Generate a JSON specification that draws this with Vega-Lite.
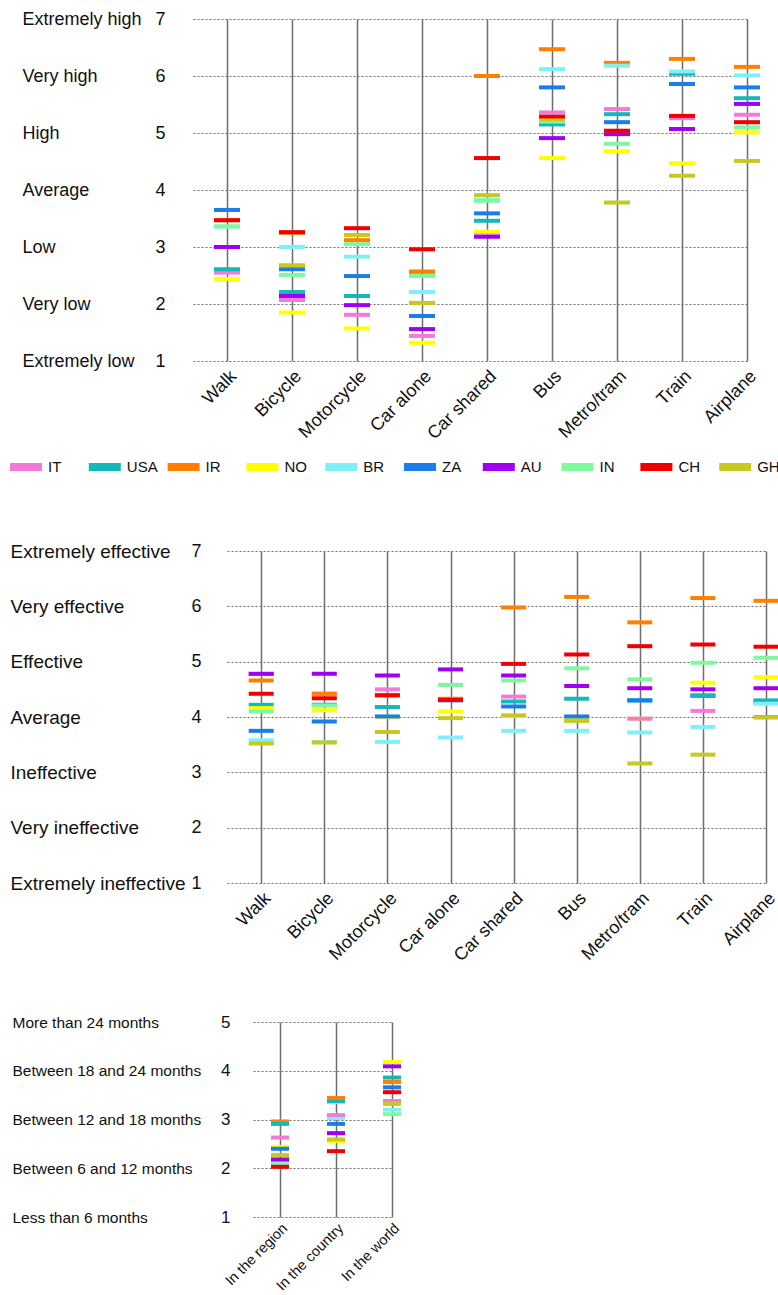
{
  "$schema": "https://vega.github.io/schema/vega-lite/v6.json",
  "background": "white",
  "padding": {"left": 10, "top": 10, "right": 0, "bottom": 0},
  "config": {
    "view": {"stroke": null},
    "font": "Liberation Sans",
    "axis": {"labelFlush": false, "labelOverlap": false, "tickSize": 0, "ticks": false, "domain": false, "labelColor": "#111111", "title": null}
  },
  "datasets": {
    "risk": [
      {"mode": "Walk", "country": "IR", "value": 3.47},
      {"mode": "Walk", "country": "BR", "value": 3.36},
      {"mode": "Walk", "country": "GH", "value": 2.58},
      {"mode": "Bicycle", "country": "IR", "value": 3.25},
      {"mode": "Car alone", "country": "USA", "value": 2.5},
      {"mode": "Car shared", "country": "IT", "value": 3.25},
      {"mode": "Car shared", "country": "BR", "value": 3.83},
      {"mode": "Train", "country": "IN", "value": 6.05},
      {"mode": "Walk", "country": "IT", "value": 2.55},
      {"mode": "Walk", "country": "USA", "value": 2.61},
      {"mode": "Walk", "country": "NO", "value": 2.44},
      {"mode": "Walk", "country": "ZA", "value": 3.65},
      {"mode": "Walk", "country": "AU", "value": 3.0},
      {"mode": "Walk", "country": "IN", "value": 3.36},
      {"mode": "Walk", "country": "CH", "value": 3.47},
      {"mode": "Bicycle", "country": "IT", "value": 2.07},
      {"mode": "Bicycle", "country": "USA", "value": 2.21},
      {"mode": "Bicycle", "country": "NO", "value": 1.85},
      {"mode": "Bicycle", "country": "BR", "value": 3.0},
      {"mode": "Bicycle", "country": "ZA", "value": 2.61},
      {"mode": "Bicycle", "country": "AU", "value": 2.14},
      {"mode": "Bicycle", "country": "IN", "value": 2.51},
      {"mode": "Bicycle", "country": "CH", "value": 3.26},
      {"mode": "Bicycle", "country": "GH", "value": 2.68},
      {"mode": "Motorcycle", "country": "IT", "value": 1.81},
      {"mode": "Motorcycle", "country": "USA", "value": 2.14},
      {"mode": "Motorcycle", "country": "IR", "value": 3.12},
      {"mode": "Motorcycle", "country": "NO", "value": 1.57},
      {"mode": "Motorcycle", "country": "BR", "value": 2.83},
      {"mode": "Motorcycle", "country": "ZA", "value": 2.49},
      {"mode": "Motorcycle", "country": "AU", "value": 1.98},
      {"mode": "Motorcycle", "country": "IN", "value": 3.05},
      {"mode": "Motorcycle", "country": "CH", "value": 3.33},
      {"mode": "Motorcycle", "country": "GH", "value": 3.21},
      {"mode": "Car alone", "country": "IT", "value": 1.44},
      {"mode": "Car alone", "country": "IR", "value": 2.57},
      {"mode": "Car alone", "country": "NO", "value": 1.32},
      {"mode": "Car alone", "country": "BR", "value": 2.21},
      {"mode": "Car alone", "country": "ZA", "value": 1.79},
      {"mode": "Car alone", "country": "AU", "value": 1.56},
      {"mode": "Car alone", "country": "IN", "value": 2.49},
      {"mode": "Car alone", "country": "CH", "value": 2.96},
      {"mode": "Car alone", "country": "GH", "value": 2.02},
      {"mode": "Car shared", "country": "USA", "value": 3.46},
      {"mode": "Car shared", "country": "IR", "value": 6.0},
      {"mode": "Car shared", "country": "NO", "value": 3.27},
      {"mode": "Car shared", "country": "ZA", "value": 3.59},
      {"mode": "Car shared", "country": "AU", "value": 3.18},
      {"mode": "Car shared", "country": "IN", "value": 3.81},
      {"mode": "Car shared", "country": "CH", "value": 4.56},
      {"mode": "Car shared", "country": "GH", "value": 3.91},
      {"mode": "Bus", "country": "USA", "value": 5.15},
      {"mode": "Bus", "country": "IR", "value": 6.47},
      {"mode": "Bus", "country": "NO", "value": 4.56},
      {"mode": "Bus", "country": "BR", "value": 6.12},
      {"mode": "Bus", "country": "ZA", "value": 5.8},
      {"mode": "Bus", "country": "AU", "value": 4.91},
      {"mode": "Bus", "country": "IN", "value": 5.2},
      {"mode": "Bus", "country": "GH", "value": 5.24},
      {"mode": "Bus", "country": "CH", "value": 5.29},
      {"mode": "Bus", "country": "IT", "value": 5.36},
      {"mode": "Metro/tram", "country": "IR", "value": 6.23},
      {"mode": "Metro/tram", "country": "BR", "value": 6.18},
      {"mode": "Metro/tram", "country": "USA", "value": 5.33},
      {"mode": "Metro/tram", "country": "IT", "value": 5.42},
      {"mode": "Metro/tram", "country": "ZA", "value": 5.19},
      {"mode": "Metro/tram", "country": "AU", "value": 4.98},
      {"mode": "Metro/tram", "country": "CH", "value": 5.04},
      {"mode": "Metro/tram", "country": "IN", "value": 4.81},
      {"mode": "Metro/tram", "country": "NO", "value": 4.68},
      {"mode": "Metro/tram", "country": "GH", "value": 3.78},
      {"mode": "Train", "country": "USA", "value": 6.04},
      {"mode": "Train", "country": "BR", "value": 6.08},
      {"mode": "Train", "country": "IR", "value": 6.3},
      {"mode": "Train", "country": "ZA", "value": 5.86},
      {"mode": "Train", "country": "IT", "value": 5.26},
      {"mode": "Train", "country": "CH", "value": 5.3},
      {"mode": "Train", "country": "AU", "value": 5.07},
      {"mode": "Train", "country": "NO", "value": 4.47},
      {"mode": "Train", "country": "GH", "value": 4.25},
      {"mode": "Airplane", "country": "IT", "value": 5.32},
      {"mode": "Airplane", "country": "USA", "value": 5.61},
      {"mode": "Airplane", "country": "IR", "value": 6.16},
      {"mode": "Airplane", "country": "NO", "value": 5.01},
      {"mode": "Airplane", "country": "BR", "value": 6.01},
      {"mode": "Airplane", "country": "ZA", "value": 5.8},
      {"mode": "Airplane", "country": "AU", "value": 5.51},
      {"mode": "Airplane", "country": "IN", "value": 5.1},
      {"mode": "Airplane", "country": "CH", "value": 5.19},
      {"mode": "Airplane", "country": "GH", "value": 4.51}
    ],
    "effect": [
      {"mode": "Walk", "country": "IT", "value": 4.78},
      {"mode": "Bicycle", "country": "IT", "value": 4.42},
      {"mode": "Bicycle", "country": "BR", "value": 3.55},
      {"mode": "Bicycle", "country": "USA", "value": 4.22},
      {"mode": "Motorcycle", "country": "IR", "value": 4.4},
      {"mode": "Motorcycle", "country": "NO", "value": 4.0},
      {"mode": "Motorcycle", "country": "IN", "value": 4.18},
      {"mode": "Car alone", "country": "IT", "value": 4.58},
      {"mode": "Car alone", "country": "USA", "value": 4.32},
      {"mode": "Car alone", "country": "IR", "value": 4.33},
      {"mode": "Car alone", "country": "ZA", "value": 4.3},
      {"mode": "Car shared", "country": "NO", "value": 4.02},
      {"mode": "Bus", "country": "IT", "value": 4.0},
      {"mode": "Bus", "country": "NO", "value": 3.95},
      {"mode": "Metro/tram", "country": "USA", "value": 4.3},
      {"mode": "Metro/tram", "country": "NO", "value": 3.97},
      {"mode": "Train", "country": "ZA", "value": 4.39},
      {"mode": "Airplane", "country": "IT", "value": 4.0},
      {"mode": "Airplane", "country": "ZA", "value": 4.28},
      {"mode": "Walk", "country": "USA", "value": 4.22},
      {"mode": "Walk", "country": "IR", "value": 4.66},
      {"mode": "Walk", "country": "NO", "value": 4.16},
      {"mode": "Walk", "country": "BR", "value": 3.58},
      {"mode": "Walk", "country": "ZA", "value": 3.75},
      {"mode": "Walk", "country": "AU", "value": 4.78},
      {"mode": "Walk", "country": "IN", "value": 4.1},
      {"mode": "Walk", "country": "CH", "value": 4.42},
      {"mode": "Walk", "country": "GH", "value": 3.52},
      {"mode": "Bicycle", "country": "IR", "value": 4.42},
      {"mode": "Bicycle", "country": "NO", "value": 4.12},
      {"mode": "Bicycle", "country": "ZA", "value": 3.92},
      {"mode": "Bicycle", "country": "AU", "value": 4.78},
      {"mode": "Bicycle", "country": "IN", "value": 4.21},
      {"mode": "Bicycle", "country": "CH", "value": 4.34},
      {"mode": "Bicycle", "country": "GH", "value": 3.54},
      {"mode": "Motorcycle", "country": "IT", "value": 4.5},
      {"mode": "Motorcycle", "country": "USA", "value": 4.18},
      {"mode": "Motorcycle", "country": "BR", "value": 3.55},
      {"mode": "Motorcycle", "country": "ZA", "value": 4.01},
      {"mode": "Motorcycle", "country": "AU", "value": 4.75},
      {"mode": "Motorcycle", "country": "CH", "value": 4.39},
      {"mode": "Motorcycle", "country": "GH", "value": 3.73},
      {"mode": "Car alone", "country": "NO", "value": 4.1},
      {"mode": "Car alone", "country": "BR", "value": 3.63},
      {"mode": "Car alone", "country": "AU", "value": 4.86},
      {"mode": "Car alone", "country": "IN", "value": 4.58},
      {"mode": "Car alone", "country": "CH", "value": 4.31},
      {"mode": "Car alone", "country": "GH", "value": 3.98},
      {"mode": "Car shared", "country": "IT", "value": 4.37},
      {"mode": "Car shared", "country": "USA", "value": 4.28},
      {"mode": "Car shared", "country": "IR", "value": 5.98},
      {"mode": "Car shared", "country": "BR", "value": 3.75},
      {"mode": "Car shared", "country": "ZA", "value": 4.19},
      {"mode": "Car shared", "country": "AU", "value": 4.75},
      {"mode": "Car shared", "country": "IN", "value": 4.66},
      {"mode": "Car shared", "country": "CH", "value": 4.96},
      {"mode": "Car shared", "country": "GH", "value": 4.03},
      {"mode": "Bus", "country": "USA", "value": 4.33},
      {"mode": "Bus", "country": "IR", "value": 6.17},
      {"mode": "Bus", "country": "BR", "value": 3.75},
      {"mode": "Bus", "country": "GH", "value": 3.93},
      {"mode": "Bus", "country": "ZA", "value": 4.01},
      {"mode": "Bus", "country": "AU", "value": 4.56},
      {"mode": "Bus", "country": "IN", "value": 4.88},
      {"mode": "Bus", "country": "CH", "value": 5.13},
      {"mode": "Metro/tram", "country": "IT", "value": 3.97},
      {"mode": "Metro/tram", "country": "IR", "value": 5.71},
      {"mode": "Metro/tram", "country": "BR", "value": 3.72},
      {"mode": "Metro/tram", "country": "ZA", "value": 4.3},
      {"mode": "Metro/tram", "country": "AU", "value": 4.52},
      {"mode": "Metro/tram", "country": "IN", "value": 4.68},
      {"mode": "Metro/tram", "country": "CH", "value": 5.28},
      {"mode": "Metro/tram", "country": "GH", "value": 3.16},
      {"mode": "Train", "country": "IT", "value": 4.11},
      {"mode": "Train", "country": "USA", "value": 4.38},
      {"mode": "Train", "country": "IR", "value": 6.15},
      {"mode": "Train", "country": "NO", "value": 4.62},
      {"mode": "Train", "country": "BR", "value": 3.82},
      {"mode": "Train", "country": "AU", "value": 4.5},
      {"mode": "Train", "country": "IN", "value": 4.98},
      {"mode": "Train", "country": "CH", "value": 5.31},
      {"mode": "Train", "country": "GH", "value": 3.32},
      {"mode": "Airplane", "country": "USA", "value": 4.3},
      {"mode": "Airplane", "country": "IR", "value": 6.1},
      {"mode": "Airplane", "country": "NO", "value": 4.72},
      {"mode": "Airplane", "country": "BR", "value": 4.24},
      {"mode": "Airplane", "country": "AU", "value": 4.52},
      {"mode": "Airplane", "country": "IN", "value": 5.07},
      {"mode": "Airplane", "country": "CH", "value": 5.27},
      {"mode": "Airplane", "country": "GH", "value": 3.99}
    ],
    "time": [
      {"mode": "In the region", "country": "IT", "value": 2.63},
      {"mode": "In the region", "country": "BR", "value": 2.1},
      {"mode": "In the region", "country": "IN", "value": 2.12},
      {"mode": "In the region", "country": "IR", "value": 2.96},
      {"mode": "In the region", "country": "USA", "value": 2.91},
      {"mode": "In the region", "country": "NO", "value": 2.44},
      {"mode": "In the region", "country": "ZA", "value": 2.4},
      {"mode": "In the region", "country": "GH", "value": 2.27},
      {"mode": "In the region", "country": "AU", "value": 2.18},
      {"mode": "In the region", "country": "CH", "value": 2.03},
      {"mode": "In the country", "country": "IN", "value": 3.36},
      {"mode": "In the country", "country": "BR", "value": 3.03},
      {"mode": "In the country", "country": "IT", "value": 3.09},
      {"mode": "In the country", "country": "USA", "value": 3.38},
      {"mode": "In the country", "country": "IR", "value": 3.44},
      {"mode": "In the country", "country": "NO", "value": 2.56},
      {"mode": "In the country", "country": "ZA", "value": 2.91},
      {"mode": "In the country", "country": "AU", "value": 2.72},
      {"mode": "In the country", "country": "GH", "value": 2.59},
      {"mode": "In the country", "country": "CH", "value": 2.35},
      {"mode": "In the world", "country": "IT", "value": 3.38},
      {"mode": "In the world", "country": "USA", "value": 3.86},
      {"mode": "In the world", "country": "IR", "value": 3.77},
      {"mode": "In the world", "country": "NO", "value": 4.18},
      {"mode": "In the world", "country": "BR", "value": 3.2},
      {"mode": "In the world", "country": "ZA", "value": 3.66},
      {"mode": "In the world", "country": "AU", "value": 4.09},
      {"mode": "In the world", "country": "IN", "value": 3.11},
      {"mode": "In the world", "country": "CH", "value": 3.56},
      {"mode": "In the world", "country": "GH", "value": 3.32}
    ]
  },
  "spacing": 99,
  "vconcat": [
    {
      "width": 554,
      "height": 342,
      "resolve": {"axis": {"y": "independent"}},
      "layer": [
        {
          "data": {"name": "risk"},
          "mark": {"type": "tick", "thickness": 4, "size": 26, "opacity": 1},
          "encoding": {
            "x": {"field": "mode", "type": "nominal", "sort": ["Walk", "Bicycle", "Motorcycle", "Car alone", "Car shared", "Bus", "Metro/tram", "Train", "Airplane"],
              "scale": {"type": "point", "padding": 0.2615, "align": 1},
              "axis": {"labelAngle": -45, "labelAlign": "right", "labelBaseline": "top", "labelFontSize": 18, "labelPadding": 6, "grid": true, "gridColor": "#6e6e6e", "gridWidth": 1.5}},
            "y": {"field": "value", "type": "quantitative", "scale": {"domain": [1, 7]},
              "axis": {"orient": "left", "values": [1, 2, 3, 4, 5, 6, 7], "format": "d", "labelFontSize": 18, "labelPadding": 28, "grid": true, "gridColor": "#6e6e6e", "gridDash": [2, 2], "gridWidth": 1}},
            "color": {"field": "country", "type": "nominal",
              "scale": {"domain": ["IT", "USA", "IR", "NO", "BR", "ZA", "AU", "IN", "CH", "GH"], "range": ["#f27ad8", "#14b8b8", "#ff8000", "#ffff00", "#80f0f8", "#1a7de8", "#a000f0", "#80f8a0", "#f00000", "#c8c820"]},
              "legend": {"title": null, "orient": "none", "legendX": -183, "legendY": 432, "direction": "horizontal", "columns": 10, "gridAlign": "all", "columnPadding": 9.8, "padding": 0, "symbolType": "M-1,-0.25H1V0.25H-1Z", "symbolSize": 1024, "symbolStrokeWidth": 0, "labelFontSize": 15, "labelOffset": 6, "labelColor": "#111111"}}
          }
        },
        {
          "data": {"values": []},
          "mark": {"type": "tick", "opacity": 0},
          "encoding": {
            "y": {"field": "value", "type": "quantitative",
              "axis": {"orient": "left", "values": [1, 2, 3, 4, 5, 6, 7], "labelExpr": "['', 'Extremely low', 'Very low', 'Low', 'Average', 'High', 'Very high', 'Extremely high'][datum.value]", "labelAlign": "left", "labelPadding": 171, "labelFontSize": 18, "labelLimit": 300, "grid": false}}
          }
        }
      ]
    },
    {
      "spacing": 48,
      "vconcat": [
        {
          "width": 573,
          "height": 332,
          "resolve": {"axis": {"y": "independent"}},
          "layer": [
            {
              "data": {"name": "effect"},
              "mark": {"type": "tick", "thickness": 4, "size": 25, "opacity": 1},
              "encoding": {
                "x": {"field": "mode", "type": "nominal", "sort": ["Walk", "Bicycle", "Motorcycle", "Car alone", "Car shared", "Bus", "Metro/tram", "Train", "Airplane"],
                  "scale": {"type": "point", "range": [34, 573], "padding": 0.271, "align": 1},
                  "axis": {"labelAngle": -45, "labelAlign": "right", "labelBaseline": "top", "labelFontSize": 18, "labelPadding": 6, "grid": true, "gridColor": "#6e6e6e", "gridWidth": 1.5}},
                "y": {"field": "value", "type": "quantitative", "scale": {"domain": [1, 7]},
                  "axis": {"orient": "left", "values": [1, 2, 3, 4, 5, 6, 7], "format": "d", "labelFontSize": 18, "labelPadding": -8, "grid": true, "gridColor": "#6e6e6e", "gridDash": [2, 2], "gridWidth": 1}},
                "color": {"field": "country", "type": "nominal",
                  "scale": {"domain": ["IT", "USA", "IR", "NO", "BR", "ZA", "AU", "IN", "CH", "GH"], "range": ["#f27ad8", "#14b8b8", "#ff8000", "#ffff00", "#80f0f8", "#1a7de8", "#a000f0", "#80f8a0", "#f00000", "#c8c820"]},
                  "legend": {"title": null, "orient": "none", "legendX": -183, "legendY": 432, "direction": "horizontal", "columns": 10, "gridAlign": "all", "columnPadding": 9.8, "padding": 0, "symbolType": "M-1,-0.25H1V0.25H-1Z", "symbolSize": 1024, "symbolStrokeWidth": 0, "labelFontSize": 15, "labelOffset": 6, "labelColor": "#111111"}}
              }
            },
            {
              "data": {"values": []},
              "mark": {"type": "tick", "opacity": 0},
              "encoding": {
                "y": {"field": "value", "type": "quantitative",
                  "axis": {"orient": "left", "values": [1, 2, 3, 4, 5, 6, 7], "labelExpr": "['', 'Extremely ineffective', 'Very ineffective', 'Ineffective', 'Average', 'Effective', 'Very effective', 'Extremely effective'][datum.value]", "labelAlign": "left", "labelPadding": 183, "labelFontSize": 19, "labelLimit": 300, "grid": false}}
              }
            }
          ]
        },
        {
          "width": 199,
          "height": 195,
          "resolve": {"axis": {"y": "independent"}},
          "layer": [
            {
              "data": {"name": "time"},
              "mark": {"type": "tick", "thickness": 4, "size": 18, "opacity": 1},
              "encoding": {
                "x": {"field": "mode", "type": "nominal", "sort": ["In the region", "In the country", "In the world"],
                  "scale": {"type": "point", "range": [60, 199], "padding": 0.241, "align": 1},
                  "axis": {"labelAngle": -45, "labelAlign": "right", "labelBaseline": "top", "labelFontSize": 14.5, "labelPadding": 4, "grid": true, "gridColor": "#6e6e6e", "gridWidth": 1.5}},
                "y": {"field": "value", "type": "quantitative", "scale": {"domain": [1, 5]},
                  "axis": {"orient": "left", "values": [1, 2, 3, 4, 5], "format": "d", "labelFontSize": 17, "labelPadding": -37, "grid": true, "gridColor": "#6e6e6e", "gridDash": [2, 2], "gridWidth": 1}},
                "color": {"field": "country", "type": "nominal",
                  "scale": {"domain": ["IT", "USA", "IR", "NO", "BR", "ZA", "AU", "IN", "CH", "GH"], "range": ["#f27ad8", "#14b8b8", "#ff8000", "#ffff00", "#80f0f8", "#1a7de8", "#a000f0", "#80f8a0", "#f00000", "#c8c820"]},
                  "legend": {"title": null, "orient": "none", "legendX": -183, "legendY": 432, "direction": "horizontal", "columns": 10, "gridAlign": "all", "columnPadding": 9.8, "padding": 0, "symbolType": "M-1,-0.25H1V0.25H-1Z", "symbolSize": 1024, "symbolStrokeWidth": 0, "labelFontSize": 15, "labelOffset": 6, "labelColor": "#111111"}}
              }
            },
            {
              "data": {"values": []},
              "mark": {"type": "tick", "opacity": 0},
              "encoding": {
                "y": {"field": "value", "type": "quantitative",
                  "axis": {"orient": "left", "values": [1, 2, 3, 4, 5], "labelExpr": "['', 'Less than 6 months', 'Between 6 and 12 months', 'Between 12 and 18 months', 'Between 18 and 24 months', 'More than 24 months'][datum.value]", "labelAlign": "left", "labelPadding": 181, "labelFontSize": 15.5, "labelLimit": 300, "grid": false}}
              }
            }
          ]
        }
      ]
    }
  ]
}
